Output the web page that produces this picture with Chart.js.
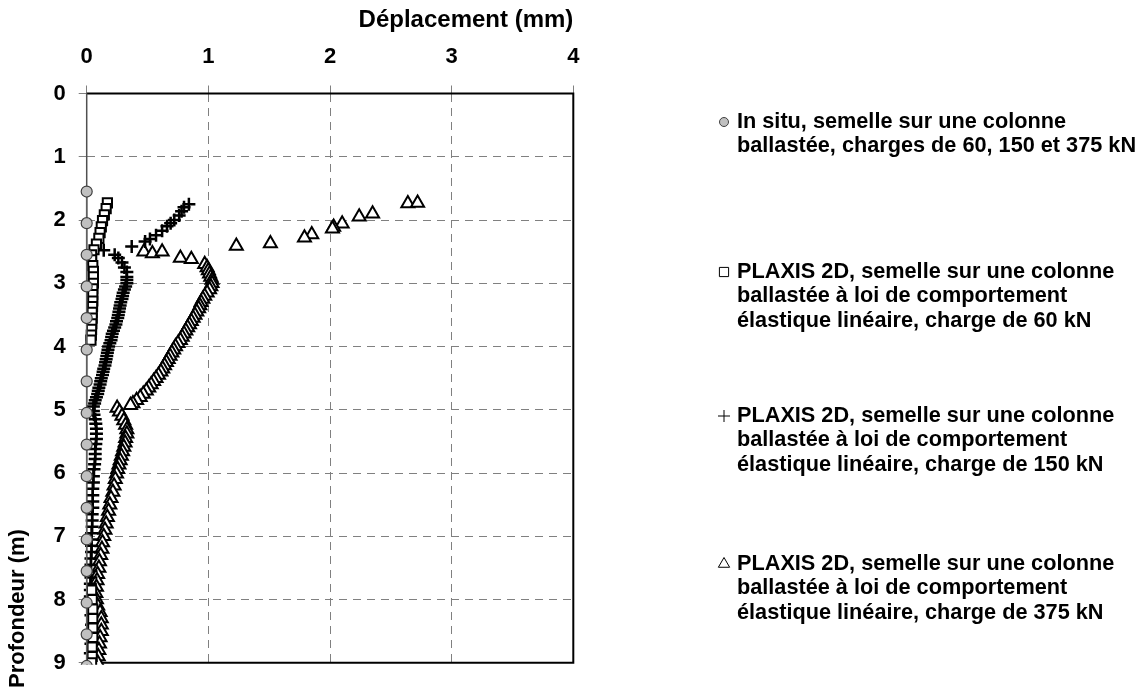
<!DOCTYPE html>
<html>
<head>
<meta charset="utf-8">
<script src="https://cdn.jsdelivr.net/npm/chart.js@4/dist/chart.umd.min.js"></script>
<style>
html,body{margin:0;padding:0;background:#fff;}
#wrap{width:1146px;height:689px;position:relative;}
</style>
</head>
<body>
<div id="wrap"><canvas id="c" width="1146" height="689"></canvas></div>
<script>
// ---- axis ticks / titles ----
const xTicks = [0, 1, 2, 3, 4];
const yTicks = [0, 1, 2, 3, 4, 5, 6, 7, 8, 9];
const xTitle = 'Déplacement (mm)';
const yTitle = 'Profondeur (m)';

// ---- legend labels (one array of lines per series) ----
const seriesLabels = [
  ['In situ, semelle sur une colonne', 'ballastée, charges de 60, 150 et 375 kN'],
  ['PLAXIS 2D, semelle sur une colonne', 'ballastée à loi de comportement', 'élastique linéaire, charge de 60 kN'],
  ['PLAXIS 2D, semelle sur une colonne', 'ballastée à loi de comportement', 'élastique linéaire, charge de 150 kN'],
  ['PLAXIS 2D, semelle sur une colonne', 'ballastée à loi de comportement', 'élastique linéaire, charge de 375 kN']
];

// ---- In situ (depth m, displacement mm) ----
const inSituDepth = [1.55, 2.05, 2.55, 3.05, 3.55, 4.05, 4.55, 5.05, 5.55, 6.05, 6.55, 7.05, 7.55, 8.05, 8.55, 9.05];
const inSituDisp  = [0, 0, 0, 0, 0, 0, 0, 0, 0, 0, 0, 0, 0, 0, 0, 0];

// ---- PLAXIS 2D, 60 kN ----
const p60Depth = [1.73, 1.82, 1.92, 2.01, 2.11, 2.20, 2.29, 2.38, 2.47, 2.55, 2.63, 2.72, 2.81, 2.90, 3.00, 3.09, 3.18, 3.28, 3.37, 3.46, 3.55, 3.64, 3.73, 3.82, 3.90,
                  7.85, 8.00, 8.15, 8.30, 8.45, 8.60, 8.75, 8.90, 9.00];
const p60Disp  = [0.17, 0.16, 0.145, 0.13, 0.12, 0.11, 0.10, 0.08, 0.06, 0.04, 0.04, 0.05, 0.055, 0.055, 0.055, 0.05, 0.05, 0.05, 0.048, 0.045, 0.045, 0.042, 0.04, 0.038, 0.035,
                  0.04, 0.045, 0.05, 0.05, 0.05, 0.05, 0.045, 0.045, 0.04];

// ---- PLAXIS 2D, 150 kN ----
const p150Depth = [1.75, 1.80, 1.86, 1.93, 2.00, 2.05, 2.10, 2.17, 2.24, 2.30, 2.34, 2.42, 2.48, 2.55, 2.60, 2.67, 2.75, 2.82, 2.90, 2.95,
                   3.00, 3.05, 3.10, 3.15, 3.20, 3.25, 3.30, 3.35, 3.40, 3.45, 3.50, 3.55, 3.60, 3.65, 3.70, 3.75, 3.80, 3.85, 3.90, 3.95,
                   4.00, 4.05, 4.10, 4.15, 4.20, 4.25, 4.30, 4.35, 4.40, 4.45, 4.50, 4.55, 4.60, 4.65, 4.70, 4.75, 4.80, 4.85, 4.90, 4.95,
                   5.02, 5.08, 5.15, 5.22, 5.30, 5.38, 5.46, 5.54, 5.62, 5.70, 5.78, 5.86, 5.94,
                   6.05, 6.15, 6.25, 6.35, 6.45, 6.55, 6.65, 6.75, 6.85, 6.95, 7.05, 7.15, 7.25, 7.35, 7.45, 7.55, 7.65, 7.75, 7.85, 7.95,
                   8.10, 8.25, 8.40, 8.55, 8.70, 8.85, 9.00];
const p150Disp  = [0.84, 0.80, 0.78, 0.76, 0.72, 0.69, 0.66, 0.62, 0.57, 0.52, 0.48, 0.37, 0.14, 0.23, 0.26, 0.29, 0.31, 0.33, 0.33, 0.33,
                   0.33, 0.32, 0.31, 0.30, 0.295, 0.29, 0.28, 0.275, 0.27, 0.265, 0.26, 0.255, 0.245, 0.24, 0.23, 0.22, 0.21, 0.205, 0.20, 0.19,
                   0.18, 0.175, 0.17, 0.165, 0.16, 0.155, 0.15, 0.14, 0.135, 0.13, 0.12, 0.115, 0.11, 0.10, 0.095, 0.09, 0.08, 0.07, 0.065, 0.055,
                   0.055, 0.06, 0.07, 0.075, 0.08, 0.08, 0.08, 0.075, 0.07, 0.07, 0.07, 0.065, 0.06,
                   0.055, 0.055, 0.05, 0.05, 0.05, 0.05, 0.045, 0.045, 0.045, 0.04, 0.04, 0.04, 0.04, 0.035, 0.035, 0.035, 0.035, 0.03, 0.03, 0.03,
                   0.03, 0.035, 0.04, 0.04, 0.035, 0.03, 0.03];

// ---- PLAXIS 2D, 375 kN ----
const p375Depth = [1.74, 1.73, 1.90, 1.95, 2.06, 2.11, 2.14, 2.23, 2.28, 2.37, 2.41, 2.50, 2.53, 2.50, 2.60, 2.62,
                   2.70, 2.75, 2.80, 2.85, 2.90, 2.95, 3.00, 3.05, 3.10, 3.15, 3.20, 3.25, 3.30, 3.35, 3.40, 3.45, 3.50, 3.55,
                   3.60, 3.65, 3.70, 3.75, 3.80, 3.85, 3.90, 3.95, 4.00, 4.05, 4.10, 4.15, 4.20, 4.25, 4.30, 4.35, 4.40, 4.45,
                   4.50, 4.55, 4.60, 4.65, 4.70, 4.75, 4.80, 4.85, 4.90, 4.93,
                   4.97, 5.03, 5.10, 5.17, 5.24, 5.31, 5.38, 5.45, 5.52, 5.59, 5.66, 5.73, 5.80, 5.87, 5.94, 6.01,
                   6.10, 6.20, 6.30, 6.40, 6.50, 6.60, 6.70, 6.80, 6.90, 7.00, 7.10, 7.20, 7.30, 7.40, 7.50, 7.60, 7.70, 7.80, 7.90,
                   8.00, 8.10, 8.20, 8.30, 8.40, 8.50, 8.60, 8.70, 8.80, 8.90, 9.00];
const p375Disp  = [2.64, 2.72, 2.35, 2.24, 2.10, 2.03, 2.02, 1.85, 1.79, 1.51, 1.23, 0.47, 0.54, 0.62, 0.77, 0.86,
                   0.97, 0.99, 1.00, 1.01, 1.02, 1.03, 1.03, 1.02, 1.01, 0.99, 0.97, 0.955, 0.94, 0.93, 0.92, 0.905, 0.89, 0.875,
                   0.86, 0.845, 0.83, 0.815, 0.80, 0.785, 0.77, 0.75, 0.73, 0.715, 0.70, 0.685, 0.67, 0.655, 0.64, 0.625, 0.61, 0.59,
                   0.57, 0.55, 0.53, 0.51, 0.49, 0.465, 0.44, 0.41, 0.38, 0.36,
                   0.25, 0.27, 0.29, 0.305, 0.32, 0.33, 0.33, 0.32, 0.315, 0.305, 0.295, 0.285, 0.275, 0.265, 0.255, 0.245,
                   0.235, 0.225, 0.215, 0.20, 0.19, 0.18, 0.17, 0.16, 0.15, 0.14, 0.13, 0.125, 0.115, 0.105, 0.10, 0.09, 0.085, 0.08, 0.075,
                   0.08, 0.09, 0.11, 0.12, 0.12, 0.12, 0.11, 0.105, 0.10, 0.095, 0.09];

// ---- build ----
const FONT = "'Liberation Sans', Arial, sans-serif";
const pts = (d, v) => d.map((y, i) => ({ x: v[i], y: y }));

const PLOT_LEFT = 86.7, PLOT_TOP = 93.5, PLOT_RIGHT = 573.3, PLOT_BOTTOM = 682.5;

const styles = [
  { pointStyle: 'circle', radius: 5.5, legendRadius: 4.5, bg: '#c0c0c0', border: '#404040', bw: 1.2, showLine: true },
  { pointStyle: 'rect', radius: 6.5, legendRadius: 6.5, bg: '#ffffff', border: '#000000', bw: 2, showLine: false },
  { pointStyle: 'cross', radius: 6.5, legendRadius: 6, bg: '#000000', border: '#000000', bw: 2.5, showLine: false },
  { pointStyle: 'triangle', radius: 7.5, legendRadius: 6.5, bg: '#ffffff', border: '#000000', bw: 2, showLine: false }
];
const dataSets = [pts(inSituDepth, inSituDisp), pts(p60Depth, p60Disp), pts(p150Depth, p150Disp), pts(p375Depth, p375Disp)];

const datasets = dataSets.map((d, i) => ({
  label: seriesLabels[i].join(' '),
  data: d,
  showLine: styles[i].showLine,
  borderColor: i === 0 ? '#606060' : styles[i].border,
  borderWidth: i === 0 ? 1.5 : 0,
  pointStyle: styles[i].pointStyle,
  pointRadius: styles[i].radius,
  pointBackgroundColor: styles[i].bg,
  pointBorderColor: styles[i].border,
  pointBorderWidth: styles[i].bw,
  pointHoverRadius: styles[i].radius,
  tension: 0,
  clip: { left: 12, top: 0, right: 0, bottom: 2 }
}));

const extras = {
  id: 'extras',
  beforeDatasetsDraw(chart) {
    const { ctx, chartArea: a } = chart;
    ctx.save();
    ctx.lineWidth = 2;
    ctx.strokeStyle = '#000';
    ctx.beginPath();
    ctx.moveTo(a.left, a.top); ctx.lineTo(a.right, a.top);
    ctx.lineTo(a.right, a.bottom); ctx.lineTo(a.left, a.bottom);
    ctx.stroke();
    ctx.lineWidth = 1.5;
    ctx.strokeStyle = '#505050';
    ctx.beginPath();
    ctx.moveTo(a.left, a.top); ctx.lineTo(a.left, a.bottom);
    ctx.stroke();
    ctx.restore();
  },
  afterDraw(chart) {
    const { ctx } = chart;
    // y axis title
    ctx.save();
    ctx.font = 'bold 22px ' + FONT;
    ctx.fillStyle = '#000';
    ctx.textBaseline = 'middle';
    ctx.textAlign = 'left';
    ctx.translate(18, 688);
    ctx.rotate(-Math.PI / 2);
    ctx.fillText(yTitle, 0, 0);
    ctx.restore();

    // legend
    const legendY = [122, 272, 416, 564];
    const markX = 724, textX = 737, lineH = 24.3;
    seriesLabels.forEach((lines, i) => {
      const y0 = legendY[i];
      ctx.save();
      ctx.font = 'bold 21.7px ' + FONT;
      ctx.fillStyle = '#000';
      ctx.textBaseline = 'middle';
      ctx.textAlign = 'left';
      lines.forEach((t, k) => ctx.fillText(t, textX, y0 + k * lineH));
      const s = styles[i];
      ctx.fillStyle = s.bg;
      ctx.strokeStyle = s.border;
      ctx.lineWidth = 1;
      Chart.helpers.drawPoint(ctx, { pointStyle: s.pointStyle, radius: s.legendRadius, borderWidth: 1 }, markX, y0);
      ctx.restore();
    });
  }
};

new Chart(document.getElementById('c'), {
  type: 'scatter',
  data: { datasets },
  options: {
    responsive: false,
    animation: false,
    devicePixelRatio: 1,
    layout: { padding: { left: 0, top: 0, right: 1146 - PLOT_RIGHT, bottom: 689 - PLOT_BOTTOM } },
    plugins: { legend: { display: false }, tooltip: { enabled: false } },
    scales: {
      x: {
        type: 'linear',
        position: 'top',
        min: xTicks[0], max: xTicks[xTicks.length - 1],
        afterBuildTicks: (s) => { s.ticks = xTicks.map(v => ({ value: v })); },
        afterFit: (s) => { s.height = PLOT_TOP; },
        ticks: { color: '#000', font: { family: FONT, size: 22, weight: 'bold' }, padding: 15, maxRotation: 0 },
        grid: { color: '#808080', lineWidth: 1, tickLength: 8, tickColor: '#808080', tickBorderDash: [], tickWidth: 1 },
        border: { display: false, dash: [8, 6] },
        title: { display: true, text: xTitle, align: 'end', color: '#000', font: { family: FONT, size: 24, weight: 'bold' }, padding: { top: 6, bottom: 0 } }
      },
      y: {
        type: 'linear',
        reverse: true,
        min: yTicks[0], max: yTicks[yTicks.length - 1],
        afterBuildTicks: (s) => { s.ticks = yTicks.map(v => ({ value: v })); },
        afterFit: (s) => { s.width = PLOT_LEFT; },
        ticks: { color: '#000', font: { family: FONT, size: 22, weight: 'bold' }, padding: 13 },
        grid: { color: '#808080', lineWidth: 1, tickLength: 8, tickColor: '#808080', tickBorderDash: [], tickWidth: 1 },
        border: { display: false, dash: [8, 6] },
        title: { display: false }
      }
    }
  },
  plugins: [extras]
});
</script>
</body>
</html>
